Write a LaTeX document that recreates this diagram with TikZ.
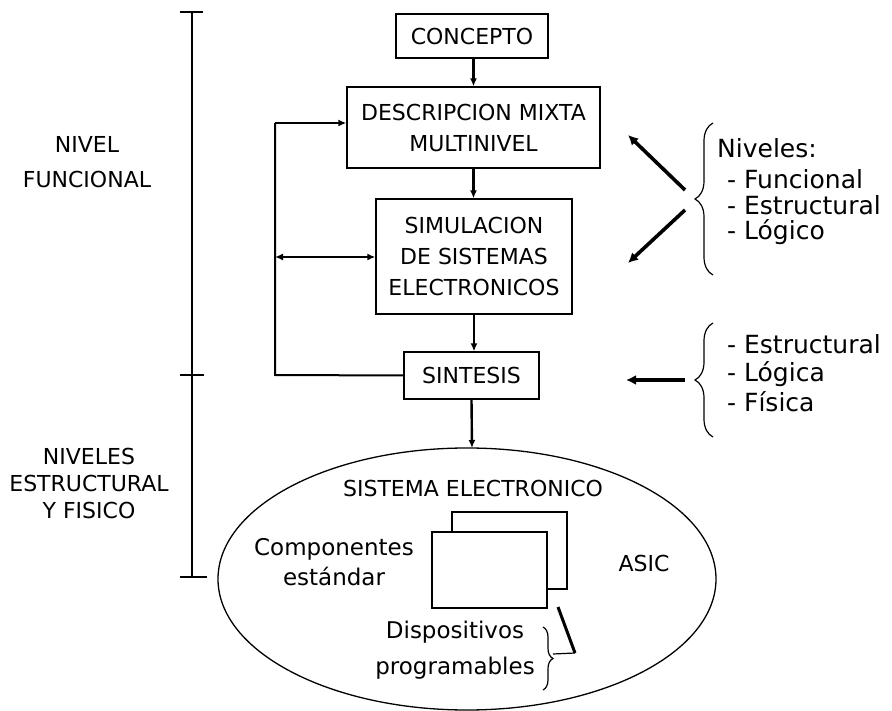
\documentclass[tikz,border=0pt]{standalone}
\usepackage{fontspec}
\setmainfont{DejaVu Sans}
\usetikzlibrary{arrows.meta,shapes.geometric,decorations.pathreplacing}
\begin{document}
\begin{tikzpicture}[x=1pt,y=-1pt,
  capfont/.style={font=\fontsize{22}{31}\selectfont},
  lowfont/.style={font=\fontsize{23}{30}\selectfont},
  sidefont/.style={font=\fontsize{25}{27}\selectfont},
  box/.style={draw, line width=1.3pt, inner sep=0pt, align=center, capfont},
  txt/.style={inner sep=0pt, align=center},
  flow/.style={line width=2.4pt, -{Latex[length=8pt,width=7pt]}},
  fbline/.style={line width=2pt},
  fbarrow/.style={line width=2pt, -{Latex[length=8pt,width=7pt]}},
  fbboth/.style={line width=2pt, {Latex[length=8pt,width=7pt]}-{Latex[length=8pt,width=7pt]}},
  bigarrow/.style={line width=3.6pt, -{Latex[length=10pt,width=10pt]}},
  bracketline/.style={line width=1.3pt},
  bracestyle/.style={line width=1.2pt, decorate},
]
\useasboundingbox (0,0) rectangle (892,711);

% main flow boxes
\node[box, minimum width=152pt, minimum height=44pt] (concepto) at (472,36) {CONCEPTO};
\node[box, minimum width=253pt, minimum height=81pt] (desc) at (473.5,127.5) {DESCRIPCION MIXTA\\MULTINIVEL};
\node[box, minimum width=196pt, minimum height=115pt] (sim) at (474,256.5) {SIMULACION\\DE SISTEMAS\\ELECTRONICOS};
\node[box, minimum width=135pt, minimum height=47pt] (sint) at (471.5,375.5) {SINTESIS};
\node[draw, ellipse, line width=1.3pt, minimum width=498pt, minimum height=262pt, inner sep=0pt] (ell) at (467,579) {};

\draw[flow] (concepto.south -| desc.north) -- (desc.north);
\draw[flow] (desc.south) -- (desc.south |- sim.north);
\draw[flow] (sim.south) -- (sim.south |- sint.north);
\coordinate (elltop) at (472,448);
\draw[flow] (sint.south) -- (elltop);

% feedback loop
\coordinate (fbL) at (275,375);
\coordinate (fbT) at (275,123);
\coordinate (fbM) at (275,257);
\draw[fbline] (sint.west) -- (fbL) -- (fbT);
\draw[fbarrow] (fbT) -- (fbT -| desc.west);
\draw[fbboth] (fbM) -- (fbM -| sim.west);

% left level bracket
\coordinate (bT) at (192,12);
\coordinate (bM) at (192,375);
\coordinate (bB) at (192,577);
\draw[bracketline] (bT) -- (bB);
\draw[bracketline] ([xshift=-12pt]bT) -- ([xshift=11pt]bT);
\draw[bracketline] ([xshift=-12pt]bM) -- ([xshift=12pt]bM);
\draw[bracketline] ([xshift=-12pt]bB) -- ([xshift=15pt]bB);

\node[txt, capfont] (nivfun) at (87,162) {NIVEL\\[4pt]FUNCIONAL};
\node[txt, capfont, font=\fontsize{22}{27}\selectfont] (nivest) at (89,483) {NIVELES\\ESTRUCTURAL\\Y FISICO};

% right annotations
\draw[bracestyle, decoration={brace, amplitude=18pt}] (713,275) -- (713,123);
\draw[bracestyle, decoration={brace, amplitude=18pt}] (713,437) -- (713,323);
\coordinate (a1s) at (685,190);
\coordinate (a1e) at (628,135);
\coordinate (a2s) at (685,210);
\coordinate (a2e) at (628,263);
\coordinate (a3s) at (685,380);
\coordinate (a3e) at (626,380);
\draw[bigarrow] (a1s) -- (a1e);
\draw[bigarrow] (a2s) -- (a2e);
\draw[bigarrow] (a3s) -- (a3e);

\node[txt, sidefont, anchor=west] (t0) at (717,148) {Niveles:};
\node[txt, sidefont, anchor=west] (t1) at (727,179) {- Funcional};
\node[txt, sidefont, anchor=west] (t2) at (727,205) {- Estructural};
\node[txt, sidefont, anchor=west] (t3) at (727,232) {- Lógico};
\node[txt, sidefont, anchor=west] (t4) at (727,344) {- Estructural};
\node[txt, sidefont, anchor=west] (t5) at (727,374) {- Lógica};
\node[txt, sidefont, anchor=west] (t6) at (727,402) {- Física};

% inside ellipse
\node[txt, capfont] (sisel) at (473,488) {SISTEMA ELECTRONICO};
\node[txt, lowfont] (comp) at (334,562) {Componentes\\estándar};
\node[txt, capfont] (asic) at (644,563) {ASIC};
\node[draw, line width=1.2pt, minimum width=115pt, minimum height=77pt, inner sep=0pt] (back) at (509.5,550.5) {};
\node[draw, fill=white, line width=1.2pt, minimum width=115pt, minimum height=76pt, inner sep=0pt] (front) at (489.5,570) {};
\node[txt, lowfont, font=\fontsize{23}{36}\selectfont] (disp) at (455,650) {Dispositivos\\programables};
\draw[bracestyle, decoration={brace, amplitude=10pt}] (543,627) -- (543,690);
\coordinate (bt) at (553,654);
\coordinate (bk) at (575,653);
\coordinate (bp) at (558,607);
\draw[line width=1.2pt] (bt) -- (bk);
\draw[line width=3pt] (bk) -- (bp);
\end{tikzpicture}
\end{document}
